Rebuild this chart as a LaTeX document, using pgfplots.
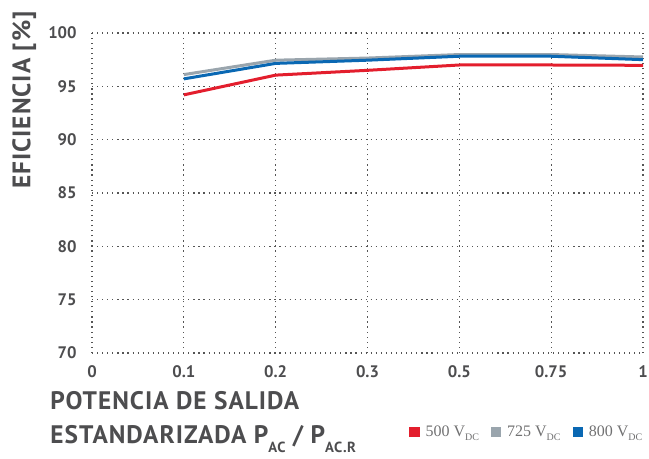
\documentclass[border=0pt]{standalone}
\usepackage{pgfplots}
\pgfplotsset{compat=1.18}
\usepackage{fontspec}
\setmainfont{PT Sans}
\newfontfamily\labfont[LetterSpace=4]{PT Sans}
\newfontfamily\legfont{Liberation Serif}
\definecolor{txt}{HTML}{4D4D4F}
\definecolor{gridc}{HTML}{555555}
\definecolor{c500}{HTML}{E31E2D}
\definecolor{c725}{HTML}{9AA5AD}
\definecolor{c800}{HTML}{0A68B3}
\newcommand{\sub}[1]{\raisebox{-0.36em}{\fontsize{11}{12}\selectfont #1}}
\newcommand{\lsub}[1]{\raisebox{-0.25em}{\fontsize{7.5}{9}\selectfont #1}}
\begin{document}
\begin{tikzpicture}
\begin{axis}[
    name=ax,
    scale only axis,
    width=413.25pt,
    height=240pt,
    xmin=0, xmax=6,
    ymin=70, ymax=100,
    xtick={0,1,2,3,4,5,6},
    xticklabels={0,0.1,0.2,0.3,0.5,0.75,1},
    ytick={70,75,80,85,90,95,100},
    major tick length=0pt,
    axis line style={draw=none},
    grid=major,
    major grid style={gridc, line width=0.9pt, dash pattern=on 0.9pt off 2.9pt},
    tick label style={font=\fontsize{12.5}{14}\selectfont\bfseries, text=txt},
    /pgf/number format/assume math mode=true,
    xticklabel style={yshift=-6pt},
    yticklabel style={xshift=-8pt},
    ylabel={EFICIENCIA [\%]},
    ylabel style={at={(axis description cs:-0.123,0.79)}, anchor=center,
        font=\labfont\fontsize{19}{22}\selectfont\bfseries, text=txt},
    xlabel={POTENCIA DE SALIDA\\ESTANDARIZADA P\sub{AC} / P\sub{AC.R}},
    xlabel style={at={(axis description cs:-0.076,-0.12)}, anchor=north west,
        align=left, inner sep=0pt, font=\labfont\fontsize{19}{25.5}\selectfont\bfseries, text=txt},
    legend columns=-1,
    legend style={at={(axis description cs:1.004,-0.247)}, anchor=east,
        draw=none, fill=none, font=\legfont\fontsize{12}{14}\selectfont, text=txt!80,
        inner sep=0pt,
        /tikz/every odd column/.append style={column sep=2.5pt},
        /tikz/every even column/.append style={column sep=7pt}},
    legend image code/.code={\fill[#1] (0pt,-2.4pt) rectangle (5.4pt,3pt);},
    every axis plot/.append style={line width=2.25pt},
]
\addplot[c500] coordinates {(1,94.2) (2,96.05) (3,96.5) (4,97.0) (5,97.0) (6,96.97)};
\addlegendentry{500 V\lsub{DC}}
\addplot[c725] coordinates {(1,96.1) (2,97.45) (3,97.65) (4,97.98) (5,97.98) (6,97.75)};
\addlegendentry{725 V\lsub{DC}}
\addplot[c800] coordinates {(1,95.7) (2,97.15) (3,97.45) (4,97.82) (5,97.82) (6,97.5)};
\addlegendentry{800 V\lsub{DC}}
\end{axis}
\pgfresetboundingbox
\path ([shift={(-69pt,-78.75pt)}]ax.south west) rectangle ([shift={(4.5pt,24.75pt)}]ax.north east);
\end{tikzpicture}
\end{document}
